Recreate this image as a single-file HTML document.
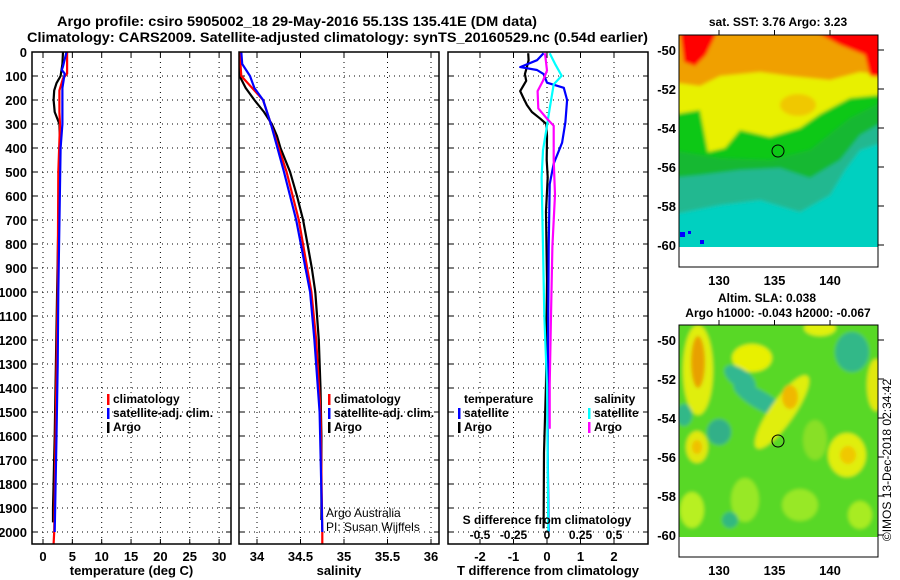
<!DOCTYPE html>
<html><head><meta charset="utf-8"><style>
html,body{margin:0;padding:0;background:#fff;}
svg{display:block;font-family:"Liberation Sans",sans-serif;}
.t{font-weight:bold;font-size:14px;}
.tk{font-weight:bold;font-size:13px;}
.lg{font-weight:bold;font-size:12px;}
</style></head><body>
<svg id="fig" width="900" height="580" viewBox="0 0 900 580" xmlns="http://www.w3.org/2000/svg">
<defs>
<filter id="bl" x="-10%" y="-10%" width="120%" height="120%"><feGaussianBlur stdDeviation="1.8"/></filter>
<clipPath id="c1"><rect x="679" y="35" width="199" height="212"/></clipPath>
<clipPath id="c2"><rect x="679" y="325" width="199" height="212"/></clipPath>
</defs>
<text class="t" x="57" y="26" textLength="480" lengthAdjust="spacingAndGlyphs">Argo profile: csiro 5905002_18 29-May-2016 55.13S 135.41E (DM data)</text>
<text class="t" x="27" y="42" textLength="621" lengthAdjust="spacingAndGlyphs">Climatology: CARS2009. Satellite-adjusted climatology: synTS_20160529.nc (0.54d earlier)</text>

<g id="p1"></g>
<g id="p2"></g>
<g id="p3"></g>

<!-- SST map -->
<g>
<text class="lg" x="778" y="26" text-anchor="middle">sat. SST: 3.76 Argo: 3.23</text>
<g clip-path="url(#c1)"><g filter="url(#bl)">
<rect x="670" y="25" width="220" height="230" fill="#00d0c0"/>
<path d="M670,215 L720,205 L760,200 L800,212 L830,195 L845,170 L860,150 L890,140 L890,25 L670,25Z" fill="#20b890"/>
<path d="M670,178 L700,175 L740,170 L780,168 L810,178 L840,160 L860,135 L890,118 L890,25 L670,25Z" fill="#18b830"/>
<path d="M670,150 L720,158 L770,160 L810,150 L850,118 L890,98 L890,25 L670,25Z" fill="#10c818"/>
<path d="M670,115 L700,110 L708,152 L725,148 L740,130 L770,137 L800,128 L820,114 L850,98 L890,94 L890,25 L670,25Z" fill="#e8f000"/>
<path d="M670,82 L700,86 L720,76 L760,72 L790,76 L830,80 L860,72 L890,76 L890,25 L670,25Z" fill="#f0a000"/>
<ellipse cx="798" cy="105" rx="18" ry="11" fill="#f0c800"/>
<path d="M680,30 L718,30 L706,55 L695,66 L684,62Z" fill="#ff0000"/>
<path d="M812,30 L890,30 L890,78 L870,76 L865,55 L840,45Z" fill="#ff0000"/>
</g>
<rect x="679" y="247" width="199" height="20" fill="#fff"/>
<rect x="680" y="232" width="5" height="5" fill="#0000ff"/><rect x="700" y="240" width="4" height="4" fill="#0000ff"/><rect x="688" y="231" width="3" height="3" fill="#0000ff"/>
</g>
<rect x="679" y="35" width="199" height="232" fill="none" stroke="#000" stroke-width="1"/>
<circle cx="778" cy="151" r="6" fill="none" stroke="#000"/>
<g id="m1ax"></g>
</g>

<!-- SLA map -->
<g>
<text class="lg" x="767" y="302" text-anchor="middle">Altim. SLA: 0.038</text>
<text class="lg" x="778" y="317" text-anchor="middle">Argo h1000: -0.043 h2000: -0.067</text>
<g clip-path="url(#c2)"><g filter="url(#bl)">
<rect x="670" y="315" width="220" height="230" fill="#58d828"/>
<ellipse cx="698" cy="370" rx="15" ry="45" fill="#e0ee10"/>
<ellipse cx="698" cy="362" rx="7" ry="26" fill="#e8a000"/>
<ellipse cx="752" cy="358" rx="20" ry="14" fill="#e8f000"/>
<ellipse cx="760" cy="400" rx="30" ry="9" fill="#30b890" transform="rotate(30 760 400)"/>
<ellipse cx="740" cy="378" rx="18" ry="9" fill="#30b890" transform="rotate(35 740 378)"/>
<ellipse cx="782" cy="412" rx="12" ry="44" fill="#e0ee10" transform="rotate(35 782 412)"/>
<ellipse cx="790" cy="397" rx="8" ry="12" fill="#f0b800"/>
<ellipse cx="852" cy="352" rx="17" ry="20" fill="#30b888"/>
<ellipse cx="876" cy="385" rx="9" ry="26" fill="#e0e810"/>
<ellipse cx="684" cy="415" rx="8" ry="11" fill="#30b888"/>
<ellipse cx="719" cy="432" rx="12" ry="13" fill="#30b088"/>
<ellipse cx="697" cy="447" rx="11" ry="16" fill="#e0e810"/>
<ellipse cx="697" cy="447" rx="5" ry="7" fill="#f0c000"/>
<ellipse cx="847" cy="455" rx="19" ry="22" fill="#e0ee10"/>
<ellipse cx="848" cy="455" rx="8" ry="9" fill="#f0c800"/>
<ellipse cx="692" cy="510" rx="12" ry="18" fill="#b8f020"/>
<ellipse cx="820" cy="328" rx="16" ry="8" fill="#e0f010"/>
<ellipse cx="800" cy="505" rx="18" ry="16" fill="#98e828"/>
<ellipse cx="745" cy="500" rx="14" ry="22" fill="#98e828"/>
<ellipse cx="730" cy="520" rx="8" ry="8" fill="#30b880"/>
<ellipse cx="860" cy="515" rx="12" ry="14" fill="#a8ec20"/>
<ellipse cx="815" cy="440" rx="12" ry="20" fill="#88e028"/>
</g>
<rect x="679" y="537" width="199" height="20" fill="#fff"/>
</g>
<rect x="679" y="325" width="199" height="232" fill="none" stroke="#000" stroke-width="1"/>
<circle cx="778" cy="441" r="6" fill="none" stroke="#000"/>
<g id="m2ax"></g>
</g>
<text x="0" y="0" font-size="12" transform="translate(891,460) rotate(-90)" text-anchor="middle">©IMOS 13-Dec-2018 02:34:42</text>
</svg>
<script>
// ---------- data ----------
const depthTicks = [0,100,200,300,400,500,600,700,800,900,1000,1100,1200,1300,1400,1500,1600,1700,1800,1900,2000];
const tempTicks = [0,5,10,15,20,25,30];
const salTicks = [34,34.5,35,35.5,36];
const salTickLabels = ["34","34.5","35","35.5","36"];
const tdiffTicks = [-2,-1,0,1,2];
const sdiffTickLabels = ["-0.5","-0.25","0","0.25","0.5"];
const sdiffTicks = [-0.5,-0.25,0,0.25,0.5];

const tClimDepth = [0,90,110,160,250,300,500,1000,1500,2000,2050];
const tClimVal   = [4.1,4.1,3.4,2.8,2.8,2.9,2.6,2.5,2.2,1.9,1.8];
const tSatDepth  = [0,60,75,90,150,300,400,1000,1300,1600,2000];
const tSatVal    = [4.0,3.4,3.2,3.7,3.3,3.3,3.0,2.6,2.5,2.3,2.0];
const tArgoDepth = [0,50,100,130,160,200,250,300,400,600,1000,1300,1600,1900,1960];
const tArgoVal   = [3.4,3.3,3.0,2.3,1.9,1.8,2.0,2.8,2.9,2.7,2.4,2.2,2.0,1.7,1.7];

const sClimDepth = [0,100,200,300,500,700,1000,1200,1500,2000,2050];
const sClimVal   = [33.80,33.82,34.07,34.16,34.34,34.48,34.625,34.68,34.73,34.75,34.75];
const sSatDepth  = [0,50,100,150,200,300,500,700,1000,1200,1500,2000];
const sSatVal    = [33.82,33.83,33.92,33.97,34.07,34.16,34.31,34.45,34.61,34.66,34.72,34.75];
const sArgoDepth = [0,100,150,200,250,300,350,400,500,600,700,800,900,1000,1200,1400,1600,1950];
const sArgoVal   = [33.80,33.80,33.87,33.97,34.08,34.17,34.23,34.27,34.38,34.46,34.53,34.58,34.63,34.67,34.71,34.73,34.74,34.74];

const dtSatDepth  = [5,34,63,75,92,128,149,200,292,378,465,551,809,1239,1669,2000];
const dtSatVal    = [-0.1,-0.3,-0.8,-0.3,-0.1,0.0,0.5,0.6,0.55,0.45,0.2,0.08,0.05,0.03,0.02,0.05];
const dtArgoDepth = [5,34,63,92,120,163,192,221,250,278,300,350,450,522,665,952,1382,1669,1985];
const dtArgoVal   = [-0.56,-0.55,-0.6,-0.66,-0.62,-0.8,-0.7,-0.6,-0.45,-0.2,-0.02,0,-0.01,0.02,-0.03,0.0,-0.03,-0.09,-0.1];
const dsSatDepth  = [5,49,99,135,235,307,409,524,811,1098,1385,2000];
const dsSatVal    = [0.02,0.06,0.11,0.05,0.02,0,-0.03,-0.04,-0.03,-0.02,0,0.01];
const dsArgoDepth = [5,77,120,163,235,278,307,450,594,809,1098,1385,1570];
const dsArgoVal   = [-0.015,0,-0.03,-0.07,-0.065,0,0.05,0.05,0.06,0.04,0.03,0.02,0.02];

const mapLonTicks = [130,135,140];
const mapLatTicks = [-50,-52,-54,-56,-58,-60];

// ---------- scales ----------
const NS="http://www.w3.org/2000/svg";
const Y0=52, YB=544;
function yD(d){return Y0 + d*0.24;}
function xT(t){return 43 + t*5.87;}
function xS(s){return 257 + (s-34)*87;}
function xDT(t){return 547 + t*33.5;}
function xDS(s){return 547 + s*134;}
function mkEl(tag,attrs,parent){const e=document.createElementNS(NS,tag);for(const k in attrs)e.setAttribute(k,attrs[k]);parent.appendChild(e);return e;}

function panel(g,x0,x1,xs,xticks,labels,xlabel,name){
  for(const d of depthTicks){
    const l=mkEl('line',{x1:x0,x2:x1,y1:yD(d),y2:yD(d),stroke:'#000','stroke-dasharray':'1,4','stroke-width':1},g);
    
    
    mkEl('line',{x1:x0,x2:x0+5,y1:yD(d),y2:yD(d),stroke:'#000'},g);
    mkEl('line',{x1:x1-5,x2:x1,y1:yD(d),y2:yD(d),stroke:'#000'},g);
  }
  xticks.forEach((v,i)=>{
    const x=xs(v);
    const l=mkEl('line',{x1:x,x2:x,y1:Y0,y2:YB,stroke:'#000','stroke-dasharray':'1,4'},g);
    
    
    mkEl('line',{x1:x,x2:x,y1:YB-5,y2:YB,stroke:'#000'},g);
    mkEl('line',{x1:x,x2:x,y1:Y0,y2:Y0+5,stroke:'#000'},g);
    const t=mkEl('text',{x:x,y:561,'text-anchor':'middle','class':'tk'},g);
    t.textContent=labels[i];
    
    
  });
  const xl=mkEl('text',{x:(x0+x1)/2,y:575,'text-anchor':'middle','class':'tk'},g);
  xl.textContent=xlabel;
  
  
}
function frame(g,x0,x1,name){
  const r=mkEl('rect',{x:x0,y:Y0,width:x1-x0,height:YB-Y0,fill:'none',stroke:'#000','stroke-width':1.5},g);
  
  
}
function line(g,ds,vs,xs,color,name){
  const pts=ds.map((d,i)=>xs(vs[i]).toFixed(1)+','+yD(d).toFixed(1)).join(' ');
  const p=mkEl('polyline',{points:pts,fill:'none',stroke:color,'stroke-width':2.2,'stroke-linejoin':'round'},g);
  
  
}
function legend(g,x,y,items,name){
  items.forEach((it,i)=>{
    const yy=y+i*14;
    if(it[1]) mkEl('rect',{x:x,y:yy-9,width:2.5,height:11,fill:it[1]},g);
    const t=mkEl('text',{x:x+6,y:yy,'class':'lg'},g);
    t.textContent=it[0];
    
    
  });
}

const p1=document.getElementById('p1'),p2=document.getElementById('p2'),p3=document.getElementById('p3');
depthTicks.forEach(d=>{
  const t=mkEl('text',{x:27,y:yD(d)+5,'text-anchor':'end','class':'tk'},p1);
  t.textContent=String(d);
  
  
});
panel(p1,32,231,xT,tempTicks,tempTicks.map(String),'temperature (deg C)','temperature');
line(p1,tArgoDepth,tArgoVal,xT,'#000','temp-argo-line');
line(p1,tClimDepth,tClimVal,xT,'#f00','temp-climatology-line');
line(p1,tSatDepth,tSatVal,xT,'#00f','temp-satellite-line');
legend(p1,107,403,[['climatology','#f00'],['satellite-adj. clim.','#00f'],['Argo','#000']],'temperature');
frame(p1,32,231,'temperature-panel');

panel(p2,239,439,xS,salTicks,salTickLabels,'salinity','salinity');
line(p2,sArgoDepth,sArgoVal,xS,'#000','sal-argo-line');
line(p2,sClimDepth,sClimVal,xS,'#f00','sal-climatology-line');
line(p2,sSatDepth,sSatVal,xS,'#00f','sal-satellite-line');
legend(p2,328,403,[['climatology','#f00'],['satellite-adj. clim.','#00f'],['Argo','#000']],'salinity');
const aa=mkEl('text',{x:326,y:517,'font-size':12},p2);aa.textContent='Argo Australia';


const pi=mkEl('text',{x:326,y:531,'font-size':12},p2);pi.textContent='PI: Susan Wijffels';


frame(p2,239,439,'salinity-panel');

panel(p3,448,648,xDT,tdiffTicks,tdiffTicks.map(String),'T difference from climatology','difference');
line(p3,dtArgoDepth,dtArgoVal,xDT,'#000','tdiff-argo-line');
line(p3,dtSatDepth,dtSatVal,xDT,'#00f','tdiff-satellite-line');
line(p3,dsSatDepth,dsSatVal,xDS,'#0ff','sdiff-satellite-line');
line(p3,dsArgoDepth,dsArgoVal,xDS,'#f0f','sdiff-argo-line');
legend(p3,458,403,[['temperature',null],['satellite','#00f'],['Argo','#000']],'tdiff');
legend(p3,588,403,[['salinity',null],['satellite','#0ff'],['Argo','#f0f']],'sdiff');
const sdt=mkEl('text',{x:547,y:524,'text-anchor':'middle','class':'lg'},p3);sdt.textContent='S difference from climatology';


sdiffTicks.forEach((v,i)=>{
  const t=mkEl('text',{x:xDS(v),y:539,'text-anchor':'middle','class':'lg'},p3);
  t.textContent=sdiffTickLabels[i];
  
  
});
frame(p3,448,648,'difference-panel');

function mapAxes(id,top,lat50){
  const g=document.getElementById(id);
  mapLonTicks.forEach(lo=>{
    const x=719+(lo-130)*11.1;
    mkEl('line',{x1:x,x2:x,y1:top-5,y2:top,stroke:'#000'},g);
    const t=mkEl('text',{x:x,y:top+250,'text-anchor':'middle','class':'tk'},g);
    t.textContent=String(lo);
    
    
  });
  mapLatTicks.forEach(la=>{
    const y=lat50+(-50-la)*19.5;
    mkEl('line',{x1:878,x2:884,y1:y,y2:y,stroke:'#000'},g);
    const t=mkEl('text',{x:676,y:y+5,'text-anchor':'end','class':'tk'},g);
    t.textContent=String(la);
    
    
  });
}
mapAxes('m1ax',35,50);
mapAxes('m2ax',325,340);
</script>
</body></html>
